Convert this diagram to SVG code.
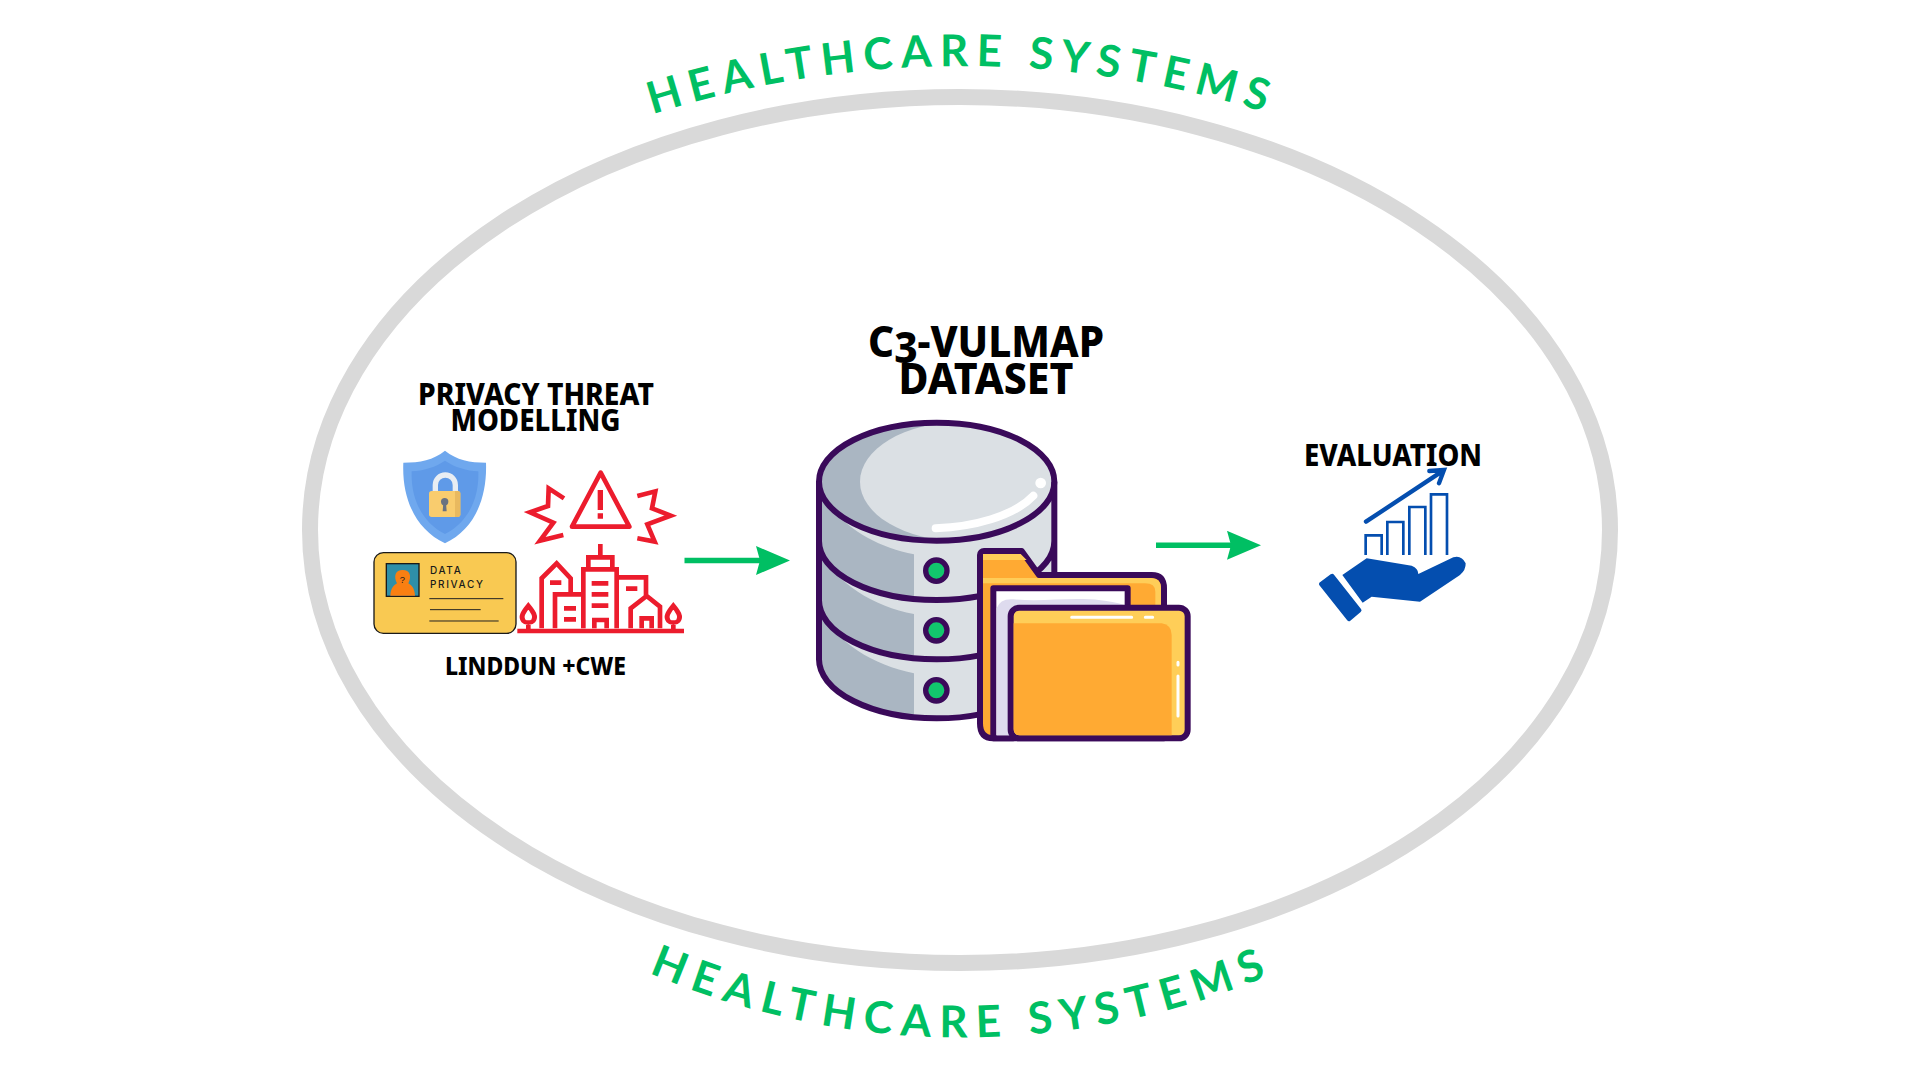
<svg xmlns="http://www.w3.org/2000/svg" width="1920" height="1080" viewBox="0 0 1920 1080">
<style>
.t{font-family:"Noto Sans","Lato",sans-serif;font-weight:800;fill:#000;text-anchor:middle}
.arc{font-family:"Lato","Noto Sans",sans-serif;font-weight:700;font-size:44px;fill:#00bf63;letter-spacing:8px;text-anchor:middle}
.arcb{letter-spacing:8.8px}
.red{fill:none;stroke:#ec1c2d;stroke-width:14}
.ol{stroke:#3a0a5a;stroke-width:18;stroke-linejoin:round}
.bar{fill:none;stroke:#044eaf;stroke-width:8}
.led{fill:#12c66d;stroke:#3a0a5a;stroke-width:16}
.dk{fill:#aab6c2}
.wl{stroke:#fff;stroke-linecap:round;fill:none}
.card{font-family:"Inter","Liberation Sans",sans-serif;font-size:30px;font-weight:500;letter-spacing:5px;fill:#1a1a1a}
.cl{stroke:#222;stroke-width:3}
.flow{stroke:#00bf63;stroke-width:5.5;fill:none;marker-end:url(#ah)}
</style>
<defs>
<marker id="ah" markerUnits="userSpaceOnUse" markerWidth="36" markerHeight="30" refX="4" refY="14.5" orient="auto"><path d="M0 0L34 14.5L0 29L4 14.5Z" fill="#00bf63"/></marker>
<path id="topArc" d="M450 205A1013 1013 0 0 1 1474 205"/>
<path id="botArc" d="M450 849A790 790 0 0 0 1474 849"/>
<clipPath id="topClip"><ellipse cx="410" cy="515" rx="353" ry="177"/></clipPath>
</defs>
<rect width="1920" height="1080" fill="#fff"/>
<g id="boundary">
<ellipse cx="960" cy="530" rx="650" ry="433" fill="none" stroke="#d9d9d9" stroke-width="16"/>
<text class="arc"><textPath href="#topArc" startOffset="50%">HEALTHCARE SYSTEMS</textPath></text>
<text class="arc arcb"><textPath href="#botArc" startOffset="50%">HEALTHCARE SYSTEMS</textPath></text>
</g>
<g id="privacy">
<text class="t" x="536" y="405" font-size="31" textLength="236" lengthAdjust="spacingAndGlyphs">PRIVACY THREAT</text>
<text class="t" x="535.500" y="431" font-size="31" textLength="170" lengthAdjust="spacingAndGlyphs">MODELLING</text>
<text class="t" x="535.500" y="674.500" font-size="25" textLength="181" lengthAdjust="spacingAndGlyphs">LINDDUN +CWE</text>
<g transform="translate(360 360) scale(.33333)">
<g id="shield">
<path d="M255 272C290 300 330 308 378 308C382 420 340 510 255 550C170 510 125 420 130 308C180 308 220 300 255 272Z" fill="#6fa8ee"/>
<path d="M255 302C285 322 320 332 355 334C358 420 320 490 255 522C190 490 152 420 155 334C190 332 225 322 255 302Z" fill="#5f9ae8"/>
<path d="M226 400V375a30 30 0 0 1 60 0V400" fill="none" stroke="#e8edf3" stroke-width="16"/>
<rect x="207" y="393" width="94" height="78" rx="8" fill="#f9cc6e"/>
<path d="M285 393h8a8 8 0 0 1 8 8v62a8 8 0 0 1-8 8h-8Z" fill="#e9b95f"/>
<circle cx="254" cy="425" r="11" fill="#6b7280"/><path d="M250 428h8l2 26h-12Z" fill="#6b7280"/>
</g>
<g id="card">
<rect x="42" y="578" width="426" height="242" rx="28" fill="#f9c952" stroke="#1a1a1a" stroke-width="4"/>
<rect x="79" y="611" width="98" height="98" fill="#2f8fa8" stroke="#1a1a1a" stroke-width="4"/>
<path d="M91 707C92 682 103 676 111 670C100 648 106 630 128 630C150 630 156 648 145 670C153 676 164 682 165 707Z" fill="#f97f12"/>
<text x="119" y="668" font-family="Liberation Sans,sans-serif" font-size="28" fill="#1a1a1a">?</text>
<text class="card" x="210" y="643">DATA</text>
<text class="card" x="210" y="684">PRIVACY</text>
<path class="cl" d="M208 716H430M210 749H362M208 783H416"/>
</g>
<g id="alert">
<path class="red" stroke-linejoin="round" d="M722 338L808 500H636Z"/>
<path fill="#ec1c2d" d="M713 390h16v60h-16ZM713 460h16v16h-16Z"/>
<path class="red" d="M612 415L566 385L564 438L510 457L580 488L540 542L610 525"/>
<path class="red" d="M832 408L886 394L876 445L932 467L862 493L884 545L832 535"/>
</g>
<g id="city">
<path class="red" d="M472 813H972M721 552V592M685 628V592H757V628M670 805V628H770V805M703 805V780H740V805"/>
<path fill="#ec1c2d" d="M695 663h50v14h-50ZM695 696h50v14h-50ZM695 730h50v14h-50ZM570 661h34v14h-34ZM612 738h36v14h-36ZM612 771h36v14h-36ZM798 679h34v14h-34Z"/>
<path class="red" d="M545 805V655L590 610L632 655V700M585 805V703H665M770 652H858V715M812 805V745L860 708L900 740V805M845 805V775H875V805"/>
<path class="red" d="M505 737C490 755 480 770 490 782C497 790 513 790 520 782C530 770 520 755 505 737ZM505 790V813M940 737C925 755 915 770 925 782C932 790 948 790 955 782C965 770 955 755 940 737ZM940 790V813"/>
</g>
</g>
</g>
<g id="dataset">
<text class="t" x="986" y="357" font-size="43" textLength="236" lengthAdjust="spacingAndGlyphs">C<tspan dy="6">3</tspan><tspan dy="-6">-VULMAP</tspan></text>
<text class="t" x="986" y="394" font-size="43" textLength="175" lengthAdjust="spacingAndGlyphs">DATASET</text>
<g transform="translate(800 310) scale(.33333)">
<g id="database">
<path d="M57 515V1048A353 177 0 0 0 763 1048V515Z" fill="#dbe0e4"/>
<path class="dk" d="M57 540C110 640 220 710 342 733V860C200 850 100 800 57 720ZM57 720C110 820 220 890 342 912V1038C200 1030 100 980 57 895ZM57 895C110 1000 220 1065 342 1090V1218C200 1210 57 1150 57 1048Z"/>
<ellipse class="dk" cx="410" cy="515" rx="353" ry="177"/>
<g clip-path="url(#topClip)"><ellipse cx="480" cy="515" rx="300" ry="178" fill="#dbe0e4"/></g>
<path class="wl" stroke-width="24" d="M407 655C520 650 640 620 700 557"/>
<circle cx="722" cy="519" r="16" fill="#fff"/>
<ellipse cx="410" cy="515" rx="353" ry="177" fill="none" class="ol"/>
<path class="ol" fill="none" d="M57 515V1048A353 177 0 0 0 763 1048V515M57 693A353 177 0 0 0 763 693M57 871A353 177 0 0 0 763 871"/>
<circle class="led" cx="409" cy="782" r="32"/><circle class="led" cx="409" cy="961" r="32"/><circle class="led" cx="409" cy="1141" r="32"/>
</g>
<g id="folder">
<path class="ol" fill="#ffaa33" d="M540 1240V735a12 12 0 0 1 12-12H665L717 795H1055Q1092 795 1092 835V1285H580Q540 1285 540 1240Z"/>
<path fill="#ffcd58" d="M549 732H662L680 750H549ZM549 804H1050Q1083 804 1083 835V895H1066V845Q1066 820 1035 820H549Z"/>
<path class="ol" fill="#fff" d="M580 1285V835H983V895H640V1285Z"/>
<path fill="#dedbee" d="M590 1276V895Q600 865 640 868C750 880 850 850 974 885V1276Z"/>
<rect class="ol" x="632" y="893" width="531" height="392" rx="26" fill="#ffce58"/>
<path fill="#ffaa33" d="M641 940H1085Q1115 945 1115 975V1276H660Q641 1276 641 1255Z"/>
<path class="wl" stroke-width="9" stroke-linecap="butt" d="M815 922H995M1036 922H1058"/>
<path class="wl" stroke-width="9" d="M1134 1098V1218M1134 1057V1065"/>
</g>
</g>
</g>
<g id="evaluation">
<text class="t" x="1393" y="466" font-size="31" textLength="178" lengthAdjust="spacingAndGlyphs">EVALUATION</text>
<g transform="translate(1140 420) scale(.33333)" fill="#044eaf">
<path class="bar" d="M677 405V346H725V405M742 405V306H790V405M808 405V261H856V405M873 405V223H921V405"/>
<path d="M678 305L905 155M868 153L912 150L897 190" fill="none" stroke="#044eaf" stroke-width="13" stroke-linecap="round" stroke-linejoin="miter"/>
<path d="M607 465L680 415L815 437Q835 445 835 462L940 412Q965 405 977 430Q978 450 960 465L840 545L695 530L668 548Z"/>
<path d="M537 492Q537 488 541 486L572 463Q578 459 582 464L663 567Q667 572 662 576L631 602Q626 606 621 600L540 498Q537 495 537 492Z"/>
</g>
</g>
<g id="connectors">
<line class="flow" x1="684.5" y1="560.5" x2="760" y2="560.5"/>
<line class="flow" x1="1156" y1="545.3" x2="1231" y2="545.3"/>
</g>
</svg>
